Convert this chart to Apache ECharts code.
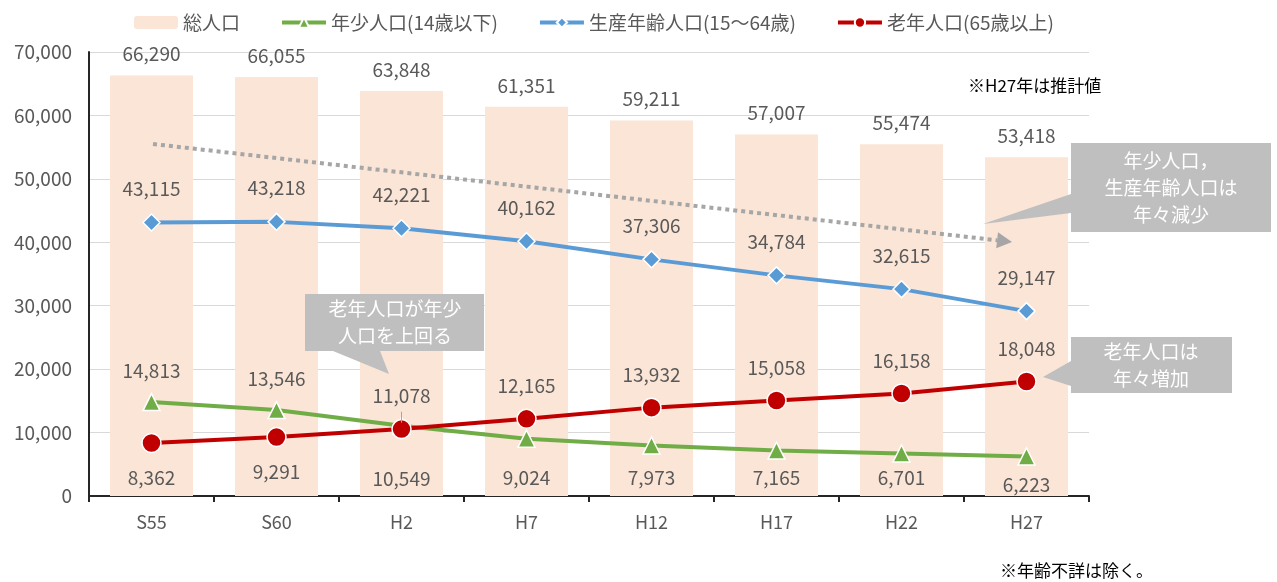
<!DOCTYPE html>
<html>
<head>
<meta charset="utf-8">
<script src="https://cdn.jsdelivr.net/npm/echarts@6/dist/echarts.min.js"></script>
<style>
  html, body { margin: 0; padding: 0; background: #fff; }
  #chart { width: 1277px; height: 582px; }
</style>
</head>
<body>
<div id="chart"></div>
<script>
// 年次
const categories = ['S55', 'S60', 'H2', 'H7', 'H12', 'H17', 'H22', 'H27'];
// 総人口
const totalPop = [66290, 66055, 63848, 61351, 59211, 57007, 55474, 53418];
// 年少人口(14歳以下)
const youngPop = [14813, 13546, 11078, 9024, 7973, 7165, 6701, 6223];
// 生産年齢人口(15～64歳)
const workingPop = [43115, 43218, 42221, 40162, 37306, 34784, 32615, 29147];
// 老年人口(65歳以上)
const elderlyPop = [8362, 9291, 10549, 12165, 13932, 15058, 16158, 18048];

const FONT = '"Noto Sans CJK JP", "Noto Sans", sans-serif';
const TEXT_COLOR = '#595959';

const fmt = v => v.toLocaleString('en-US');

// ラベル位置（Excelの配置に合わせる）
const youngLabelPos = [
  ['top', 13], ['top', 13], ['top', 11], ['bottom', 20],
  ['bottom', 14], ['bottom', 8], ['bottom', 6], ['bottom', 10]
];
const elderlyLabelPos = [
  ['bottom', 15], ['bottom', 15], ['bottom', 30], ['top', 13],
  ['top', 13], ['top', 13], ['top', 13], ['top', 13]
];

const labelBase = {
  show: true,
  color: TEXT_COLOR,
  fontSize: 19,
  fontFamily: FONT,
  formatter: p => fmt(p.value)
};

const chart = echarts.init(document.getElementById('chart'), null, { renderer: 'canvas' });

const option = {
  animation: false,
  backgroundColor: '#fff',
  textStyle: { fontFamily: FONT },
  grid: { left: 89, right: 188, top: 52, bottom: 86 },
  legend: {
    left: 129,
    top: 8,
    itemWidth: 44,
    itemHeight: 13,
    itemGap: 40,
    lineStyle: { width: 4 },
    textStyle: { color: TEXT_COLOR, fontSize: 19, fontFamily: FONT },
    data: ['総人口', '年少人口(14歳以下)', '生産年齢人口(15～64歳)', '老年人口(65歳以上)']
  },
  xAxis: {
    type: 'category',
    data: categories,
    axisLine: { lineStyle: { color: '#262626', width: 2 } },
    axisTick: { show: true, length: 6, lineStyle: { color: '#262626', width: 2 } },
    axisLabel: { color: TEXT_COLOR, fontSize: 18, margin: 17, fontFamily: FONT }
  },
  yAxis: {
    type: 'value',
    min: 0,
    max: 70000,
    interval: 10000,
    axisLine: { show: true, lineStyle: { color: '#262626', width: 2 } },
    axisTick: { show: false },
    splitLine: { lineStyle: { color: '#d9d9d9', width: 1 } },
    axisLabel: { color: TEXT_COLOR, fontSize: 19, margin: 17, fontFamily: FONT, formatter: v => fmt(v) }
  },
  series: [
    {
      name: '総人口',
      type: 'bar',
      data: totalPop,
      barWidth: 83,
      itemStyle: { color: '#fbe5d6' },
      label: Object.assign({}, labelBase, { position: 'top', distance: 12 }),
      z: 1
    },
    {
      name: '年少人口(14歳以下)',
      type: 'line',
      data: youngPop.map((v, i) => ({
        value: v,
        label: { position: youngLabelPos[i][0], distance: youngLabelPos[i][1] }
      })),
      symbol: 'triangle',
      symbolSize: 17,
      lineStyle: { color: '#70ad47', width: 4 },
      itemStyle: { color: '#70ad47', borderColor: '#fff', borderWidth: 1.5 },
      label: labelBase,
      z: 3
    },
    {
      name: '生産年齢人口(15～64歳)',
      type: 'line',
      data: workingPop,
      symbol: 'diamond',
      symbolSize: 17,
      lineStyle: { color: '#5b9bd5', width: 4 },
      itemStyle: { color: '#5b9bd5', borderColor: '#fff', borderWidth: 1.5 },
      label: Object.assign({}, labelBase, { position: 'top', distance: 15 }),
      z: 3
    },
    {
      name: '老年人口(65歳以上)',
      type: 'line',
      data: elderlyPop.map((v, i) => ({
        value: v,
        label: { position: elderlyLabelPos[i][0], distance: elderlyLabelPos[i][1] }
      })),
      symbol: 'circle',
      symbolSize: 19,
      lineStyle: { color: '#c00000', width: 4 },
      itemStyle: { color: '#c00000', borderColor: '#fff', borderWidth: 1.5 },
      label: labelBase,
      z: 4
    }
  ]
};

chart.setOption(option);

// 注釈（吹き出し・矢印・注記）
function callout(points, lines, cx, cy, lineH) {
  const items = [{
    type: 'polygon',
    shape: { points: points },
    style: { fill: '#bfbfbf' },
    z: 20
  }];
  lines.forEach((t, i) => {
    items.push({
      type: 'text',
      x: cx,
      y: cy + i * lineH,
      z: 21,
      style: {
        text: t, fill: '#fff', font: '19px ' + FONT,
        align: 'center', verticalAlign: 'middle'
      }
    });
  });
  return items;
}

const arrowStart = [153, 144];
const arrowTip = [1012, 242];
const dx = arrowTip[0] - arrowStart[0], dy = arrowTip[1] - arrowStart[1];
const len = Math.sqrt(dx * dx + dy * dy);
const ux = dx / len, uy = dy / len;
const headLen = 15, headHalf = 8;
const baseX = arrowTip[0] - ux * headLen, baseY = arrowTip[1] - uy * headLen;

// H2 年少人口ラベルの引出線
const h2 = chart.convertToPixel({ seriesIndex: 1 }, [2, youngPop[2]]);

chart.setOption({
  graphic: [
    {
      type: 'line',
      shape: { x1: arrowStart[0], y1: arrowStart[1], x2: baseX, y2: baseY },
      style: { stroke: '#a6a6a6', lineWidth: 4, lineDash: [4, 4] },
      z: 10
    },
    {
      type: 'polygon',
      shape: { points: [
        [arrowTip[0], arrowTip[1]],
        [baseX - uy * headHalf, baseY + ux * headHalf],
        [baseX + uy * headHalf, baseY - ux * headHalf]
      ] },
      style: { fill: '#a6a6a6' },
      z: 10
    },
    {
      type: 'line',
      shape: { x1: h2[0], y1: h2[1] - 14, x2: h2[0], y2: h2[1] - 3 },
      style: { stroke: '#a6a6a6', lineWidth: 1 },
      z: 10
    }
  ].concat(
    callout(
      [[1071, 143], [1271, 143], [1271, 232], [1071, 232], [1071, 213], [983, 224], [1071, 194]],
      ['年少人口，', '生産年齢人口は', '年々減少'], 1171, 161, 27
    ),
    callout(
      [[305, 294], [484, 294], [484, 351], [380, 351], [389, 374], [333, 351], [305, 351]],
      ['老年人口が年少', '人口を上回る'], 395, 309, 27
    ),
    callout(
      [[1071, 337], [1232, 337], [1232, 393], [1071, 393], [1071, 386], [1043, 377], [1071, 361]],
      ['老年人口は', '年々増加'], 1151, 352, 27
    ),
    [
      {
        type: 'text', x: 968, y: 86, z: 10,
        style: { text: '※H27年は推計値', fill: '#000', font: '17px ' + FONT, verticalAlign: 'middle' }
      },
      {
        type: 'text', x: 1000, y: 571, z: 10,
        style: { text: '※年齢不詳は除く。', fill: '#000', font: '17px ' + FONT, verticalAlign: 'middle' }
      }
    ]
  )
});
</script>
</body>
</html>
